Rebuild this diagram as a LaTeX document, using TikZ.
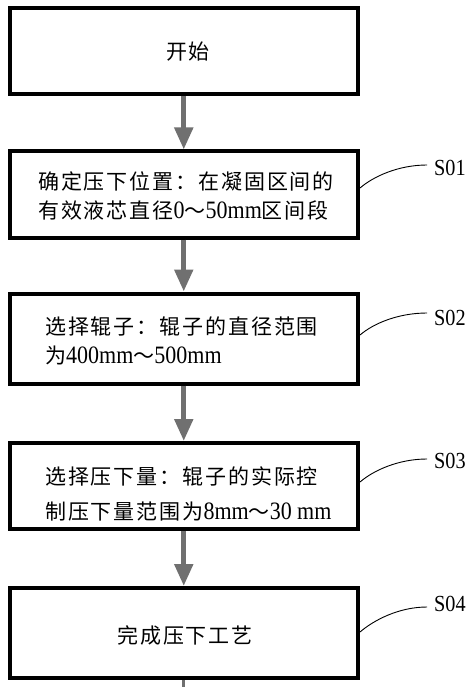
\documentclass[tikz,border=0pt]{standalone}
\usepackage{fontspec}
\setmainfont{Liberation Serif}
\newfontfamily\cjk[LetterSpace=9]{Noto Sans CJK SC}
\newfontfamily\latn[FakeStretch=0.88]{Liberation Serif}
\usetikzlibrary{arrows.meta,calc}
\definecolor{flowgray}{RGB}{112,112,112}
\newcommand\nm[1]{{\latn\fontsize{25pt}{29pt}\selectfont #1}}
\tikzset{
  box/.style={draw=black, line width=4pt, fill=white, minimum width=348.5pt, minimum height=#1, inner sep=0pt},
  txt/.style={font=\cjk\fontsize{21pt}{29pt}\selectfont, inner sep=0pt, align=left},
  flow/.style={draw=flowgray, line width=5pt, -{Triangle[width=18pt,length=22pt]}},
  stub/.style={draw=flowgray, line width=3pt},
  lead/.style={draw=black, line width=0.9pt},
  tag/.style={font=\latn\fontsize{23pt}{23pt}\selectfont, inner sep=0pt, anchor=west}
}
\begin{document}
\begin{tikzpicture}[x=1pt,y=-1pt]
\useasboundingbox (0,0) rectangle (474,687);
\fill[white] (0,0) rectangle (474,687);
% boxes
\node[box=86pt] (b1) at (183.75,51.5) {};
\node[box=86pt] (b2) at (183.75,194.5) {};
\node[box=90pt] (b3) at (183.75,338.5) {};
\node[box=85.5pt] (b4) at (183.75,485.75) {};
\node[box=90pt] (b5) at (183.75,633) {};
% texts
\node[txt] (t1) at (188,52) {开始};
\node[txt,anchor=west] (t2) at (38,196) {确定压下位置：在凝固区间的\\有效液芯直径\nm{0}～\nm{50mm}区间段};
\node[txt,anchor=west] (t3) at (45,340.5) {选择辊子：辊子的直径范围\\为\nm{400mm}～\nm{500mm}};
\node[txt,anchor=west] (t4) at (45,493.5) {选择压下量：辊子的实际控\\[6pt]制压下量范围为\nm{8mm}～\nm{30 mm}};
\node[txt] (t5) at (185,635) {完成压下工艺};
% arrows
\draw[flow] (b1.south) -- (b2.north);
\draw[flow] (b2.south) -- (b3.north);
\draw[flow] (b3.south) -- (b4.north);
\draw[flow] (b4.south) -- (b5.north);
\coordinate (bottomend) at (183.75,687);
\draw[stub] (b5.south) -- (bottomend);
% step labels
\node[tag] (s1) at (434,168) {S01};
\node[tag] (s2) at (434,318) {S02};
\node[tag] (s3) at (434,461) {S03};
\node[tag] (s4) at (434,604) {S04};
\draw[lead] ([yshift=6.5pt]b2.east) .. controls +(14,-12) and +(-28,0) .. ($(s1.west)+(-7,-3)$);
\draw[lead] ([yshift=3.5pt]b3.east) .. controls +(14,-12) and +(-28,0) .. ($(s2.west)+(-7,-5)$);
\draw[lead] ([yshift=3.75pt]b4.east) .. controls +(14,-12) and +(-28,0) .. ($(s3.west)+(-7,-2)$);
\draw[lead] ([yshift=1pt]b5.east) .. controls +(14,-12) and +(-28,0) .. ($(s4.west)+(-7,3)$);
\end{tikzpicture}
\end{document}
